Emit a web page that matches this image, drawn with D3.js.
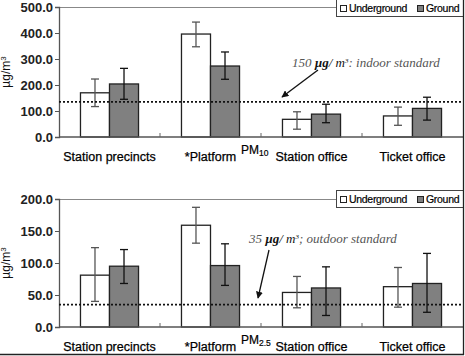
<!DOCTYPE html>
<html><head><meta charset="utf-8">
<script src="https://cdn.jsdelivr.net/npm/d3@7"></script>
<style>body{margin:0;background:#fff}svg{display:block}</style>
</head><body><svg id="c" width="465" height="356"></svg>
<script>
const categories = ["Station precincts", "*Platform", "Station office", "Ticket office"];
const series = ["Underground", "Ground"];
// PM10
const pm10Underground = [170, 396, 68, 81];
const pm10Ground = [204, 273, 88, 110];
const pm10UndergroundErrHi = [223, 442, 97, 115];
const pm10UndergroundErrLo = [117, 347, 30, 45];
const pm10GroundErrHi = [264, 327, 126, 153];
const pm10GroundErrLo = [145, 222, 55, 65];
const pm10Ticks = [0, 100, 200, 300, 400, 500];
const pm10Standard = 135;
// PM2.5
const pm25Underground = [81, 159, 54, 63];
const pm25Ground = [95, 96, 61, 68];
const pm25UndergroundErrHi = [124, 187, 79, 93];
const pm25UndergroundErrLo = [40, 131, 30, 31];
const pm25GroundErrHi = [121, 130, 94, 115];
const pm25GroundErrLo = [68, 65, 18, 23];
const pm25Ticks = [0, 50, 100, 150, 200];
const pm25Standard = 35;

const svg = d3.select("#c");
const font = "'Liberation Sans', Arial, sans-serif";
const L = 59, R = 463;
const x = d3.scaleBand().domain(categories).range([L, R]).padding(0);
const xs = d3.scaleBand().domain(series).range([0, x.bandwidth()]).paddingInner(0).paddingOuter(0.74);

function panel(cfg) {
  const y = d3.scaleLinear().domain([0, cfg.max]).range([cfg.bottom, cfg.top]);
  const g = svg.append("g");
  // top border
  g.append("line").attr("x1", L).attr("x2", 337).attr("y1", cfg.top + 0.5).attr("y2", cfg.top + 0.5)
    .attr("stroke", "#888").attr("stroke-width", 1.2);
  // y axis
  const ya = g.append("g").attr("transform", `translate(${L},0)`)
    .call(d3.axisLeft(y).tickValues(cfg.ticks).tickFormat(d3.format(".1f")).tickSize(4).tickPadding(2));
  ya.select(".domain").attr("stroke", "#555").attr("stroke-width", 1.3);
  ya.selectAll(".tick line").attr("stroke", "#555");
  ya.selectAll("text").attr("font-family", font).attr("font-size", 13).attr("font-weight", "bold").attr("fill", "#222");
  // bars
  const data = [];
  categories.forEach((c, i) => {
    data.push({c, s: "Underground", v: cfg.u[i], hi: cfg.uHi[i], lo: cfg.uLo[i]});
    data.push({c, s: "Ground", v: cfg.g[i], hi: cfg.gHi[i], lo: cfg.gLo[i]});
  });
  g.selectAll("rect.bar").data(data).join("rect")
    .attr("x", d => x(d.c) + xs(d.s)).attr("width", xs.bandwidth())
    .attr("y", d => y(d.v)).attr("height", d => y(0) - y(d.v))
    .attr("fill", d => d.s === "Ground" ? "#808080" : "#fff")
    .attr("stroke", "#222").attr("stroke-width", 1.3);
  // error bars
  const eb = g.selectAll("g.eb").data(data).join("g")
    .attr("stroke", d => d.s === "Ground" ? "#111" : "#555").attr("stroke-width", 1.3);
  const cx = d => x(d.c) + xs(d.s) + xs.bandwidth() / 2;
  eb.append("line").attr("x1", cx).attr("x2", cx).attr("y1", d => y(d.hi)).attr("y2", d => y(d.lo));
  eb.append("line").attr("x1", d => cx(d) - 4).attr("x2", d => cx(d) + 4).attr("y1", d => y(d.hi)).attr("y2", d => y(d.hi));
  eb.append("line").attr("x1", d => cx(d) - 4).attr("x2", d => cx(d) + 4).attr("y1", d => y(d.lo)).attr("y2", d => y(d.lo));
  // x axis line and inner ticks
  g.append("line").attr("x1", L).attr("x2", R).attr("y1", y(0)).attr("y2", y(0)).attr("stroke", "#555").attr("stroke-width", 1.3);
  categories.slice(1).forEach(c => {
    g.append("line").attr("x1", x(c)).attr("x2", x(c)).attr("y1", y(0)).attr("y2", y(0) - 4).attr("stroke", "#666");
  });
  // standard line
  g.append("line").attr("x1", L).attr("x2", R).attr("y1", y(cfg.std)).attr("y2", y(cfg.std))
    .attr("stroke", "#111").attr("stroke-width", 1.6).attr("stroke-dasharray", "2,2");
  // category labels
  g.selectAll("text.cat").data(categories).join("text")
    .attr("x", c => x(c) + x.bandwidth() / 2).attr("y", y(0) + 24)
    .attr("text-anchor", "middle").attr("font-family", font).attr("font-size", 12.5)
    .attr("fill", "#000").attr("stroke", "#000").attr("stroke-width", 0.25).text(c => c);
  // PM label
  const pm = g.append("text").attr("x", 241).attr("y", y(0) + 17).attr("font-family", font).attr("font-size", 12)
    .attr("fill", "#000").attr("stroke", "#000").attr("stroke-width", 0.2);
  pm.append("tspan").text("PM");
  pm.append("tspan").attr("dy", 2).attr("font-size", 8.5).text(cfg.sub);
  // y title
  const yt = g.append("text").attr("transform", `translate(10,${(cfg.top + cfg.bottom) / 2}) rotate(-90)`)
    .attr("text-anchor", "middle").attr("font-family", font).attr("font-size", 12).attr("fill", "#111");
  yt.append("tspan").text("µg/m");
  yt.append("tspan").attr("dy", -4).attr("font-size", 8).text("3");
  // legend
  const lg = g.append("g");
  lg.append("rect").attr("x", 336.5).attr("y", cfg.legY + 0.5).attr("width", 127).attr("height", 17)
    .attr("fill", "#fff").attr("stroke", "#444").attr("stroke-width", 1);
  series.forEach((s, i) => {
    const lx = i === 0 ? 340 : 417;
    lg.append("rect").attr("x", lx + 0.5).attr("y", cfg.legY + 6.5).attr("width", 6).attr("height", 6)
      .attr("fill", s === "Ground" ? "#808080" : "#fff").attr("stroke", "#222");
    lg.append("text").attr("x", lx + 9).attr("y", cfg.legY + 13).attr("font-family", font)
      .attr("font-size", 10.5).attr("letter-spacing", -0.3).attr("fill", "#000")
      .attr("stroke", "#000").attr("stroke-width", 0.2).text(s);
  });
  // annotation
  const an = g.append("text").attr("x", cfg.annX).attr("y", cfg.annY).attr("font-family", "'Liberation Serif', 'Times New Roman', serif")
    .attr("font-style", "italic").attr("font-size", 13).attr("fill", "#555");
  an.append("tspan").text(cfg.annNum + "  ");
  an.append("tspan").attr("font-weight", "bold").attr("fill", "#111").text("µg");
  an.append("tspan").attr("fill", "#111").text("/ m");
  an.append("tspan").attr("dy", -4).attr("font-size", 7).attr("fill", "#111").text("3");
  an.append("tspan").attr("dy", 4).text(cfg.annText);
  // arrow
  g.append("line").attr("x1", cfg.ax1).attr("y1", cfg.ay1).attr("x2", cfg.ax2).attr("y2", cfg.ay2)
    .attr("stroke", "#111").attr("stroke-width", 1.3).attr("marker-end", "url(#ah)");
}

svg.append("defs").append("marker").attr("id", "ah").attr("viewBox", "0 0 10 10").attr("refX", 9).attr("refY", 5)
  .attr("markerWidth", 7).attr("markerHeight", 7).attr("markerUnits", "userSpaceOnUse").attr("orient", "auto")
  .append("path").attr("d", "M0,0 L10,5 L0,10 z").attr("fill", "#111");

panel({max: 500, top: 7, bottom: 137, ticks: pm10Ticks, std: pm10Standard,
  u: pm10Underground, g: pm10Ground, uHi: pm10UndergroundErrHi, uLo: pm10UndergroundErrLo,
  gHi: pm10GroundErrHi, gLo: pm10GroundErrLo, sub: "10", legY: -1,
  annX: 292, annY: 67, annNum: "150", annText: ": indoor standard",
  ax1: 318, ay1: 70, ax2: 282, ay2: 97});
panel({max: 200, top: 199, bottom: 327, ticks: pm25Ticks, std: pm25Standard,
  u: pm25Underground, g: pm25Ground, uHi: pm25UndergroundErrHi, uLo: pm25UndergroundErrLo,
  gHi: pm25GroundErrHi, gLo: pm25GroundErrLo, sub: "2.5", legY: 190,
  annX: 249, annY: 243, annNum: "35", annText: "; outdoor standard",
  ax1: 269, ay1: 250, ax2: 258, ay2: 298});

// figure frame (right and bottom edges)
svg.append("line").attr("x1", 463.5).attr("x2", 463.5).attr("y1", 0).attr("y2", 355).attr("stroke", "#222").attr("stroke-width", 1.3);
svg.append("line").attr("x1", 0).attr("x2", 464).attr("y1", 354.5).attr("y2", 354.5).attr("stroke", "#222").attr("stroke-width", 1.3);
</script></body></html>
